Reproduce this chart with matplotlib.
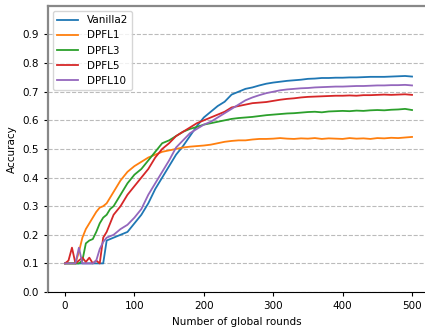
import matplotlib
matplotlib.use('Agg')
import matplotlib.pyplot as plt

rounds = [0, 5, 10, 15, 20, 25, 30, 35, 40, 45, 50, 55, 60, 65, 70] + list(range(80, 501, 10))

vanilla2 = [0.10, 0.10, 0.10, 0.10, 0.10, 0.10, 0.10, 0.10, 0.10, 0.10, 0.10, 0.10, 0.18, 0.185, 0.19,
            0.20, 0.21, 0.24, 0.27, 0.31, 0.36, 0.40, 0.44, 0.48, 0.51, 0.545, 0.58, 0.61, 0.63, 0.65,
            0.665, 0.69, 0.70, 0.71, 0.715, 0.722, 0.728, 0.732, 0.735, 0.738, 0.74, 0.742, 0.745,
            0.746, 0.748, 0.748, 0.749, 0.749, 0.75, 0.75, 0.751, 0.752, 0.752, 0.752, 0.753, 0.754,
            0.755, 0.753]

dpfl1 = [0.10, 0.10, 0.10, 0.10, 0.14, 0.19, 0.22, 0.24, 0.26, 0.28, 0.295, 0.30, 0.31, 0.33, 0.35,
         0.39, 0.42, 0.44, 0.455, 0.47, 0.48, 0.49, 0.495, 0.50, 0.505, 0.508, 0.51, 0.512, 0.515,
         0.52, 0.525, 0.528, 0.53, 0.53, 0.533, 0.535, 0.535, 0.536, 0.538, 0.536, 0.535, 0.537,
         0.536, 0.538, 0.535, 0.537, 0.536, 0.535, 0.538, 0.536, 0.537, 0.535, 0.538, 0.537, 0.539,
         0.538, 0.54, 0.542]

dpfl3 = [0.10, 0.10, 0.10, 0.10, 0.10, 0.11, 0.17, 0.18, 0.185, 0.21, 0.24, 0.26, 0.27, 0.29, 0.30,
         0.34, 0.38, 0.41, 0.43, 0.46, 0.49, 0.52, 0.53, 0.545, 0.56, 0.57, 0.577, 0.585, 0.59,
         0.595, 0.60, 0.605, 0.608, 0.61, 0.612, 0.615, 0.618, 0.62, 0.622, 0.624, 0.625, 0.627,
         0.629, 0.63, 0.628, 0.631, 0.632, 0.633, 0.632, 0.634, 0.633, 0.635, 0.636, 0.635, 0.637,
         0.638, 0.64, 0.636]

dpfl5 = [0.10, 0.11, 0.155, 0.10, 0.11, 0.12, 0.105, 0.12, 0.10, 0.11, 0.10, 0.19, 0.21, 0.24, 0.27,
         0.30, 0.34, 0.37, 0.40, 0.43, 0.47, 0.50, 0.52, 0.545, 0.56, 0.575, 0.59, 0.60, 0.61,
         0.62, 0.63, 0.645, 0.65, 0.655, 0.66, 0.662, 0.664, 0.668, 0.672, 0.675, 0.677, 0.68,
         0.682, 0.683, 0.684, 0.685, 0.686, 0.686, 0.687, 0.686, 0.688, 0.688, 0.689, 0.69, 0.689,
         0.69, 0.691, 0.689]

dpfl10 = [0.10, 0.10, 0.10, 0.10, 0.155, 0.10, 0.10, 0.10, 0.10, 0.11, 0.15, 0.175, 0.19, 0.195, 0.20,
          0.22, 0.235, 0.26, 0.29, 0.34, 0.38, 0.42, 0.46, 0.505, 0.53, 0.555, 0.57, 0.585, 0.595,
          0.61, 0.625, 0.64, 0.655, 0.67, 0.68, 0.688, 0.695, 0.70, 0.705, 0.708, 0.71, 0.712,
          0.713, 0.715, 0.716, 0.717, 0.718, 0.718, 0.719, 0.72, 0.72, 0.721, 0.722, 0.722, 0.723,
          0.723, 0.724, 0.722]

series = [('Vanilla2', vanilla2), ('DPFL1', dpfl1), ('DPFL3', dpfl3),
          ('DPFL5', dpfl5), ('DPFL10', dpfl10)]

fig = plt.figure(figsize=(4.25, 3.27), dpi=100)
ax = fig.add_axes([0.113, 0.107, 0.887, 0.875])

for navn, verdier in series:
    ax.plot(rounds, verdier, label=navn, linewidth=1.3)

ax.set_xlim(-24.5, 518.7)
ax.set_ylim(0, 1.0)
ax.set_yticks([0.0, 0.1, 0.2, 0.3, 0.4, 0.5, 0.6, 0.7, 0.8, 0.9])
ax.set_xticks([0, 100, 200, 300, 400, 500])
ax.yaxis.grid(True, linestyle='--', color='#bbbbbb', linewidth=0.8)
ax.set_axisbelow(True)

ax.spines['right'].set_visible(False)
for side in ['left', 'top']:
    ax.spines[side].set_color('#888888')
    ax.spines[side].set_linewidth(1.6)

ax.tick_params(labelsize=7.5, length=3)
ax.set_xlabel('Number of global rounds', fontsize=7.5)
ax.set_ylabel('Accuracy', fontsize=7.5)
ax.legend(loc='upper left', fontsize=7.5)

fig.savefig('out.png', dpi=100)
